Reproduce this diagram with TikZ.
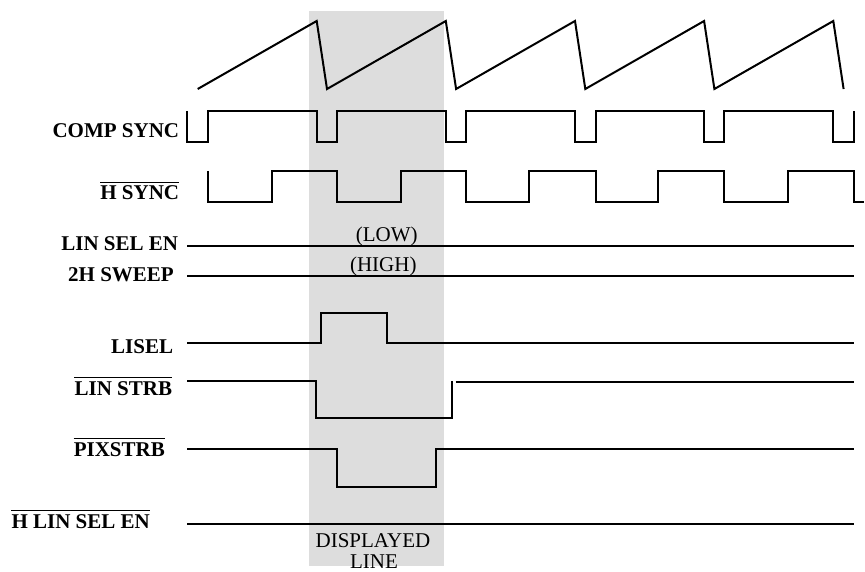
\documentclass[tikz,border=0pt]{standalone}
\usepackage{fontspec}
\setmainfont{Liberation Serif}
\definecolor{bandgray}{RGB}{221,221,221}
\begin{document}
\begin{tikzpicture}[x=1pt,y=-1pt,
  sig/.style={line width=2pt,line join=miter,line cap=butt},
  lbl/.style={anchor=base east,inner sep=0pt,font=\fontsize{21}{25}\selectfont\bfseries},
  note/.style={anchor=base,inner sep=0pt,font=\fontsize{21}{25}\selectfont},
  ovl/.style={line width=1.3pt}]
\useasboundingbox (0,0) rectangle (865,572);
% displayed-line band
\fill[bandgray] (309,11) rectangle (444,566);
% sawtooth
\draw[sig] (197.7,89) -- (316.7,21) -- (327,89) -- (445.8,21) -- (456.1,89)
  -- (575,21) -- (585.3,89) -- (704.1,21) -- (714.4,89) -- (833.3,21) -- (843.6,89);
% COMP SYNC
\draw[sig] (187.3,111) -- (187.3,142) -- (208,142) -- (208,111)
  -- (316.7,111) -- (316.7,142) -- (337.3,142) -- (337.3,111)
  -- (445.8,111) -- (445.8,142) -- (466.2,142) -- (466.2,111)
  -- (575,111) -- (575,142) -- (595.6,142) -- (595.6,111)
  -- (704.1,111) -- (704.1,142) -- (724.4,142) -- (724.4,111)
  -- (833.3,111) -- (833.3,142) -- (853.6,142) -- (853.6,111);
% H SYNC
\draw[sig] (207.7,171) -- (207.7,201.7) -- (271.7,201.7) -- (271.7,171)
  -- (337.3,171) -- (337.3,201.7) -- (400.7,201.7) -- (400.7,171)
  -- (466.2,171) -- (466.2,201.7) -- (529.3,201.7) -- (529.3,171)
  -- (595.6,171) -- (595.6,201.7) -- (658.3,201.7) -- (658.3,171)
  -- (724.4,171) -- (724.4,201.7) -- (787.5,201.7) -- (787.5,171)
  -- (853.6,171) -- (853.6,201.7) -- (864,201.7);
% LIN SEL EN, 2H SWEEP
\draw[sig] (187.3,245.7) -- (854,245.7);
\draw[sig] (187.3,276) -- (854,276);
% LISEL
\draw[sig] (187.3,343.3) -- (320.7,343.3) -- (320.7,313.3) -- (386.7,313.3)
  -- (386.7,343.3) -- (854,343.3);
% LIN STRB
\draw[sig] (187.3,381) -- (316,381) -- (316,418.3) -- (451.5,418.3) -- (451.5,381);
\draw[sig] (455.5,381.5) -- (854,381.5);
% PIXSTRB
\draw[sig] (187.3,449) -- (337.3,449) -- (337.3,486.7) -- (436,486.7)
  -- (436,449) -- (854,449);
% H LIN SEL EN
\draw[sig] (187.3,524) -- (854,524);
% labels
\node[lbl] (lcomp) at (179.3,137.3) {COMP SYNC};
\node[lbl] (lhsync) at (179.3,200) {H SYNC};
\node[lbl] (llinsel) at (178.3,250.7) {LIN SEL EN};
\node[lbl] (lsweep) at (174,281) {2H SWEEP};
\node[lbl] (llisel) at (173.3,353.3) {LISEL};
\node[lbl] (lstrb) at (172.3,395) {LIN STRB};
\node[lbl] (lpix) at (165,456) {PIXSTRB};
\node[lbl] (lhlin) at (150,528.3) {H LIN SEL EN};
\foreach \n in {lhsync,lstrb,lpix,lhlin}
  \draw[ovl] ([yshift=17.7pt]\n.base west) -- ([yshift=17.7pt]\n.base east);
% notes
\node[note] (low) at (386.7,241.7) {(LOW)};
\node[note] (high) at (383.3,271.7) {(HIGH)};
\node[note] (disp1) at (373,547) {DISPLAYED};
\node[note] (disp2) at (374,568) {LINE};
\end{tikzpicture}
\end{document}
